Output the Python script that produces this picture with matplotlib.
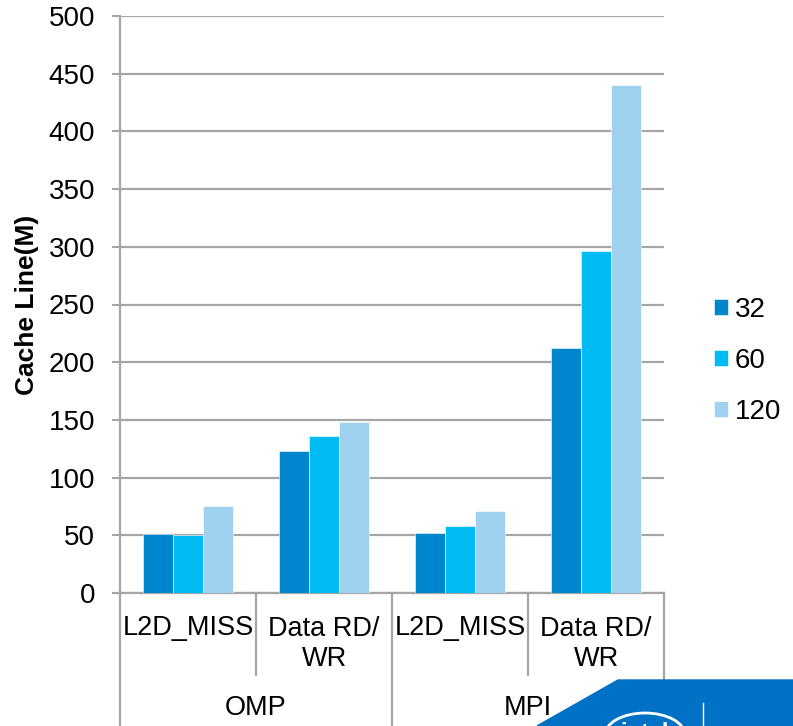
import matplotlib.pyplot as plt
import matplotlib.patches as mpatches
import numpy as np

plt.rcParams['font.family'] = ['Liberation Sans', 'DejaVu Sans']

groups = ["OMP", "MPI"]
metrics = ["L2D_MISS", "Data RD/\nWR"]
series = ["32", "60", "120"]
vals_32 = [51, 123, 52, 212]
vals_60 = [50, 136, 58, 296]
vals_120 = [75, 148, 71, 440]
colors = ["#0086CD", "#00BCF2", "#A0D1EE"]

W, H = 793, 726
fig = plt.figure(figsize=(W / 100, H / 100), dpi=100)
ax = fig.add_axes([120 / W, 1 - 593 / H, 544 / W, 577 / H])

x = np.arange(len(groups) * len(metrics))
bw = 0.223
for i, (vals, c, lab) in enumerate(zip([vals_32, vals_60, vals_120], colors, series)):
    ax.bar(x + (i - 1) * bw, vals, bw, color=c, label=lab, zorder=3,
           edgecolor="white", linewidth=0.4)

grid_c = "#A6A6A6"
ax.set_xlim(-0.5, len(x) - 0.5)
ax.set_ylim(0, 500)
ax.set_yticks(np.arange(0, 501, 50))
ax.yaxis.grid(True, color=grid_c, linewidth=1.6, zorder=0)
ax.set_xticks([])
ax.tick_params(axis="y", labelsize=20, length=6, width=1.5, color=grid_c, pad=12)
for s in ["top", "right"]:
    ax.spines[s].set_visible(False)
for s in ["left", "bottom"]:
    ax.spines[s].set_color(grid_c)
    ax.spines[s].set_linewidth(1.6)
ax.set_ylabel("Cache Line(M)", fontsize=19, fontweight="bold", labelpad=7)

# hierarchical category axis
tr = ax.get_xaxis_transform()
ax.plot([-0.5, -0.52], [0, 0], color=grid_c, lw=1.6, clip_on=False, transform=tr)
for k in range(len(x) + 1):
    xs = k - 0.5
    bottom = -0.231 if k % 2 == 0 else -0.1426
    ax.plot([xs, xs], [0, bottom], color=grid_c, lw=1.6, clip_on=False,
            transform=tr, zorder=1)
for k in range(len(x)):
    lab = metrics[k % 2]
    yy = -0.061 if "\n" not in lab else -0.089
    ax.text(k, yy, lab, transform=tr, ha="center", va="center", fontsize=19.5,
            linespacing=1.2)
for g, name in enumerate(groups):
    ax.text(2 * g + 0.5, -0.199, name, transform=tr, ha="center", va="center",
            fontsize=19.5)

fig.legend(loc="center left", bbox_to_anchor=(700 / W, 1 - 361 / H),
           frameon=False, fontsize=20, handlelength=0.5, handleheight=0.5,
           handletextpad=0.25, labelspacing=0.9, borderpad=0)

# corner logo strip
fig.patches.append(mpatches.Polygon(
    [(537 / W, 0), (618 / W, 1 - 680 / H), (1, 1 - 680 / H), (1, 0)],
    closed=True, transform=fig.transFigure, color="#0071C5", zorder=5))
fig.patches.append(mpatches.Ellipse(
    (645 / W, 1 - 735 / H), 80 / W, 44 / H, transform=fig.transFigure,
    fill=False, edgecolor="white", linewidth=2, zorder=6))
fig.text(645 / W, 1 - 733 / H, "intel", color="white", fontsize=17,
         fontweight="bold", ha="center", va="center", zorder=7)
fig.add_artist(plt.Line2D([703 / W, 703 / W], [0, 1 - 703 / H], color="white",
                          lw=1, transform=fig.transFigure, zorder=7))
fig.text(752 / W, 1 - 738 / H, "33", color="white", fontsize=14,
         ha="center", va="center", zorder=7)

fig.savefig("out.png", dpi=100)
